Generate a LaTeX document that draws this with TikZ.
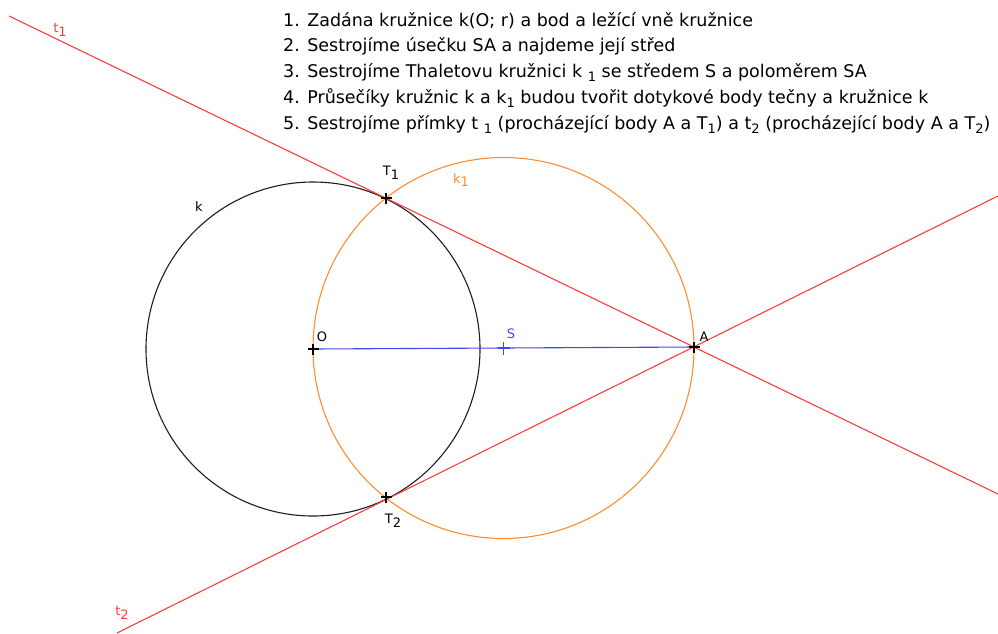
\documentclass[tikz,border=0pt]{standalone}
\usepackage{fontspec}
\setmainfont{DejaVu Sans}
\definecolor{tecna}{RGB}{255,60,60}
\definecolor{thales}{RGB}{255,140,50}
\definecolor{usecka}{RGB}{70,70,240}
\definecolor{kruh}{RGB}{30,30,30}
\newcommand{\dolni}[1]{\raisebox{-.5ex}{\fontsize{13}{13}\selectfont #1}}
\tikzset{
  krok/.style={anchor=base west,inner sep=0pt,font=\fontsize{17.5}{20}\selectfont},
  popis/.style={inner sep=0pt,font=\fontsize{13}{14}\selectfont},
  krizek/.style={line width=1.6pt}
}
\begin{document}
\begin{tikzpicture}[x=1pt,y=-1pt]
\useasboundingbox (0,0) rectangle (998,633);
% body
\coordinate (O) at (313,349);
\coordinate (A) at (694,347);
\coordinate (S) at (503.5,348);
\coordinate (T1) at (386,198);
\coordinate (T2) at (386,497);
\coordinate (t1a) at (9,16);
\coordinate (t1b) at (998,494);
\coordinate (t2a) at (117,633);
\coordinate (t2b) at (998,196);
% postup
\node[krok] (r1) at (283,26) {1. Zadána kružnice k(O; r) a bod a ležící vně kružnice};
\node[krok] (r2) at (283,51.5) {2. Sestrojíme úsečku SA a najdeme její střed};
\node[krok] (r3) at (283,77) {3. Sestrojíme Thaletovu kružnici k \dolni{1} se středem S a poloměrem SA};
\node[krok] (r4) at (283,103) {4. Průsečíky kružnic k a k\dolni{1} budou tvořit dotykové body tečny a kružnice k};
\node[krok] (r5) at (283,129) {5. Sestrojíme přímky t \dolni{1} (procházející body A a T\dolni{1}) a t\dolni{2} (procházející body A a T\dolni{2})};
% kruznice
\draw[kruh,line width=1.1pt] (O) circle[radius=167];
\draw[thales,line width=1.1pt] (S) circle[radius=190.5];
% tecny
\draw[tecna,line width=1.1pt] (t1a) -- (t1b);
\draw[tecna,line width=1.1pt] (t2a) -- (t2b);
\draw[usecka,line width=1.1pt] (O) -- (A);
% krizky
\foreach \p in {O,A,T1,T2}
  \draw[krizek] ([xshift=-5.5pt]\p) -- ([xshift=5.5pt]\p) ([yshift=-5.5pt]\p) -- ([yshift=5.5pt]\p);
\draw[krizek,usecka] ([xshift=-6pt]S) -- ([xshift=6pt]S) ([yshift=-6.5pt]S) -- ([yshift=6.5pt]S);
% popisky
\node[popis,tecna] (lt1) at (60,30) {t\dolni{1}};
\node[popis,tecna] (lt2) at (122,613) {t\dolni{2}};
\node[popis] (lT1) at (391,173) {T\dolni{1}};
\node[popis] (lT2) at (393,521) {T\dolni{2}};
\node[popis,thales] (lk1) at (461,180) {k\dolni{1}};
\node[popis] (lk) at (199,207) {k};
\node[popis] (lO) at (322,337) {O};
\node[popis,usecka] (lS) at (511,334) {S};
\node[popis] (lA) at (704,337) {A};
\end{tikzpicture}
\end{document}
